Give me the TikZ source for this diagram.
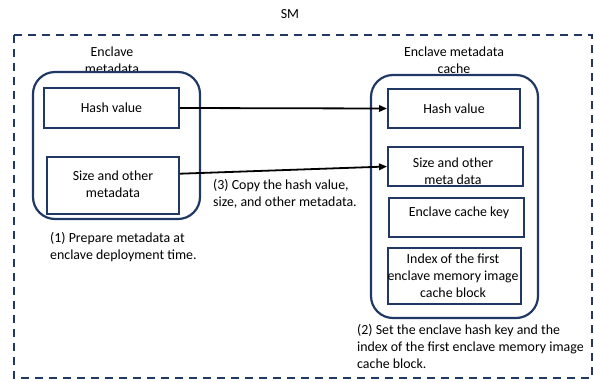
\documentclass[tikz,border=0pt]{standalone}
\usepackage{fontspec}
\setmainfont{Carlito}
\usetikzlibrary{arrows.meta,calc}
\definecolor{navy}{HTML}{1F3864}
\begin{document}
\begin{tikzpicture}[x=1pt,y=-1pt,
  font=\fontsize{13.9}{17}\selectfont,
  container/.style={draw=navy,line width=2.2pt,rounded corners=22pt,inner sep=0pt},
  field/.style={draw=navy,line width=2pt,inner sep=0pt},
  label/.style={inner sep=0pt,align=center},
  note/.style={inner sep=0pt,align=left,anchor=west},
  copyarrow/.style={line width=1.8pt,-{Triangle[length=8pt,width=6.5pt]}}]
\useasboundingbox (0,0) rectangle (594,381);

% secure monitor region
\node[label] (sm) at (290,14) {SM};
\draw[navy,line width=2.2pt,dash pattern=on 8pt off 6pt] (14,35) rectangle (592,378);

% enclave metadata (left)
\node[label] (lmeta) at (112,60) {Enclave\\metadata};
\node[container,minimum width=167pt,minimum height=147pt] (lbox) at (116.5,145.5) {};
\node[field,minimum width=135pt,minimum height=40pt] (lhash) at (111.5,108) {Hash value};
\node[field,minimum width=132pt,minimum height=57pt] (lsize) at (113,185.5) {};
\node[label] (lsizet) at (113,184) {Size and other\\metadata};

% enclave metadata cache (right)
\node[label] (rmeta) at (454,60) {Enclave metadata\\cache};
\node[container,minimum width=167pt,minimum height=243pt] (rbox) at (454.5,196.5) {};
\node[field,minimum width=132pt,minimum height=39pt] (rhash) at (454,108.5) {Hash value};
\node[field,minimum width=135pt,minimum height=39pt] (rsize) at (455.5,166.5) {};
\node[label] (rsizet) at (453,171.5) {Size and other\\meta data};
\node[field,minimum width=135pt,minimum height=39pt] (rkey) at (456.5,217.5) {};
\node[label] (rkeyt) at (459,213) {Enclave cache key};
\node[field,minimum width=133pt,minimum height=56pt] (rindex) at (454.5,276) {};
\node[label] (rindext) at (453,276) {Index of the first\\enclave memory image\\cache block};

% copy arrows
\draw[copyarrow] (lhash.east) -- (rhash.west);
\draw[copyarrow] ($(lsize.north east)!0.3!(lsize.south east)$) -- (rsize.west);

% step notes
\node[note] (step1) at (50,247) {(1) Prepare metadata at\\enclave deployment time.};
\node[note] (step3) at (213,194) {(3) Copy the hash value,\\size, and other metadata.};
\node[note] (step2) at (357,346) {(2) Set the enclave hash key and the\\index of the first enclave memory image\\cache block.};
\end{tikzpicture}
\end{document}
